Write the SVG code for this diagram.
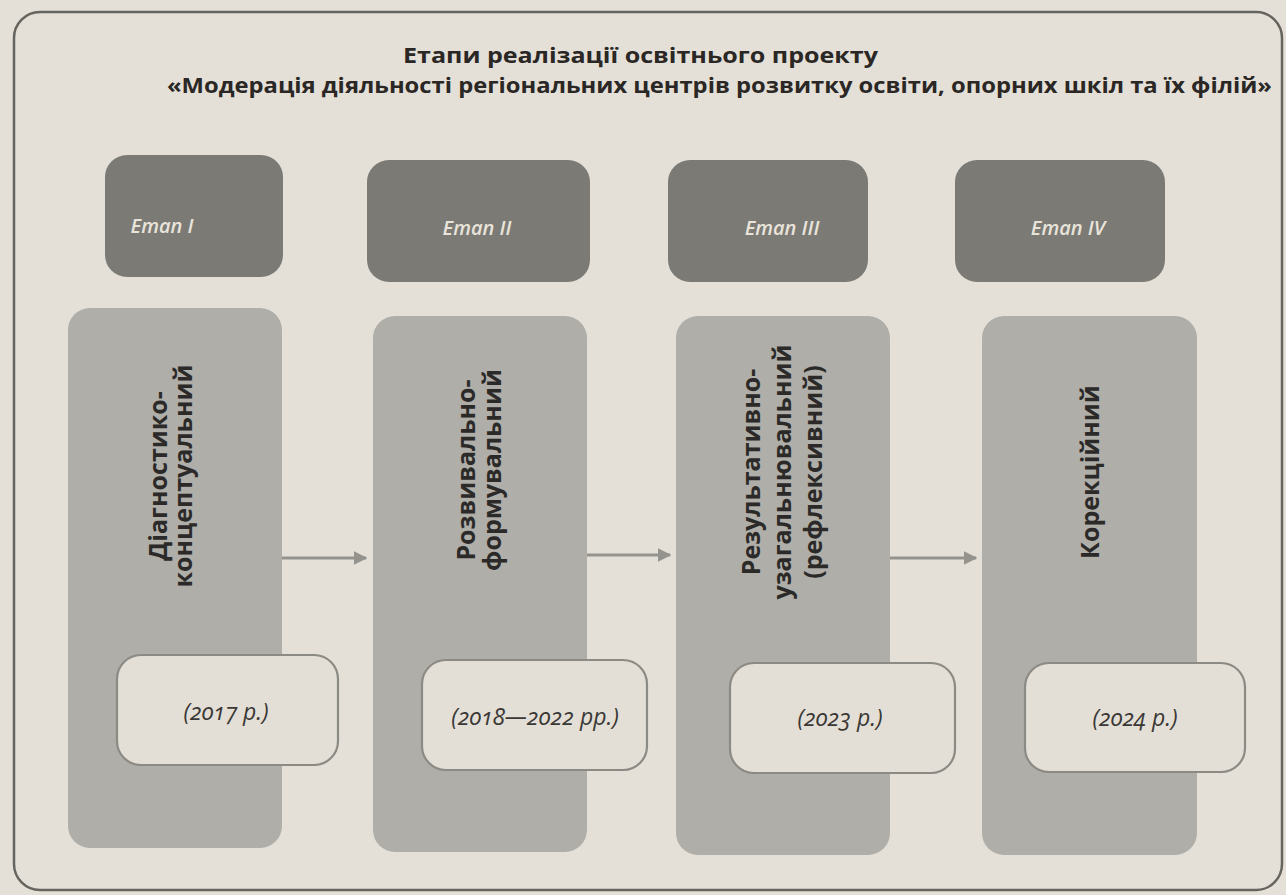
<svg xmlns="http://www.w3.org/2000/svg" width="1286" height="895" viewBox="0 0 1286 895">
<defs>
<style>
.bg{fill:#e4e0d8}
.frame{fill:none;stroke:#66645f;stroke-width:2.5}
.title{font-family:"Open Sans","Noto Sans",sans-serif;font-weight:700;font-size:22px;fill:#2a2725}
.hdr{fill:#7b7a75}
.hdrt{font-family:"Open Sans","Noto Sans",sans-serif;font-weight:600;font-style:italic;font-size:20px;fill:#e9e4da;text-anchor:middle}
.col{fill:#afaea8}
.colt{font-family:"Open Sans","Noto Sans",sans-serif;font-weight:700;font-size:25px;fill:#2c2a28;text-anchor:middle}
.yr{fill:#e3dfd7;stroke:#8c8a84;stroke-width:2.2}
.yrt{font-family:"Open Sans","Noto Sans",sans-serif;font-style:italic;font-size:23px;fill:#3a3835;text-anchor:middle;font-variant-numeric:oldstyle-nums}
.arr{stroke:#95938d;stroke-width:3;fill:none}
</style>
<marker id="ah" viewBox="0 0 10 10" refX="9" refY="5" markerWidth="4.5" markerHeight="4.5" orient="auto">
<path d="M0,0 L10,5 L0,10 z" fill="#95938d"/>
</marker>
</defs>
<rect class="bg" x="0" y="0" width="1286" height="895"/>
<rect class="frame" x="14" y="12" width="1268" height="878" rx="26"/>
<g id="title">
<text class="title" x="403" y="63" textLength="475" lengthAdjust="spacingAndGlyphs">Етапи реалізації освітнього проекту</text>
<text class="title" x="167" y="93" textLength="1105" lengthAdjust="spacingAndGlyphs">«Модерація діяльності регіональних центрів розвитку освіти, опорних шкіл та їх філій»</text>
</g>
<g id="connectors">
<line class="arr" x1="282" y1="558" x2="366" y2="558" marker-end="url(#ah)"/>
<line class="arr" x1="587" y1="555" x2="670" y2="555" marker-end="url(#ah)"/>
<line class="arr" x1="890" y1="558" x2="976" y2="558" marker-end="url(#ah)"/>
</g>
<g id="stage1">
<rect class="hdr" x="105" y="155" width="178" height="122" rx="22"/>
<text class="hdrt" x="162" y="233">Етап I</text>
<rect class="col" x="68" y="308" width="214" height="540" rx="22"/>
<text class="colt" transform="translate(167,476) rotate(-90)">Діагностико-</text>
<text class="colt" transform="translate(192,476) rotate(-90)">концептуальний</text>
<rect class="yr" x="117" y="655" width="221" height="110" rx="24"/>
<text class="yrt" x="226" y="720">(2017 р.)</text>
</g>
<g id="stage2">
<rect class="hdr" x="367" y="160" width="223" height="122" rx="22"/>
<text class="hdrt" x="477" y="235">Етап II</text>
<rect class="col" x="373" y="316" width="214" height="536" rx="22"/>
<text class="colt" transform="translate(475,470) rotate(-90)">Розвивально-</text>
<text class="colt" transform="translate(501,470) rotate(-90)">формувальний</text>
<rect class="yr" x="422" y="660" width="225" height="110" rx="24"/>
<text class="yrt" x="535" y="725">(2018—2022 рр.)</text>
</g>
<g id="stage3">
<rect class="hdr" x="668" y="160" width="200" height="122" rx="22"/>
<text class="hdrt" x="782" y="235">Етап III</text>
<rect class="col" x="676" y="316" width="214" height="539" rx="22"/>
<text class="colt" transform="translate(760,472) rotate(-90)">Результативно-</text>
<text class="colt" transform="translate(791,472) rotate(-90)">узагальнювальний</text>
<text class="colt" transform="translate(822,472) rotate(-90)">(рефлексивний)</text>
<rect class="yr" x="730" y="663" width="225" height="110" rx="24"/>
<text class="yrt" x="840" y="726">(2023 р.)</text>
</g>
<g id="stage4">
<rect class="hdr" x="955" y="160" width="210" height="122" rx="22"/>
<text class="hdrt" x="1068" y="235">Етап IV</text>
<rect class="col" x="982" y="316" width="215" height="539" rx="22"/>
<text class="colt" transform="translate(1099,472) rotate(-90)">Корекційний</text>
<rect class="yr" x="1025" y="663" width="220" height="109" rx="24"/>
<text class="yrt" x="1135" y="726">(2024 р.)</text>
</g>
</svg>
